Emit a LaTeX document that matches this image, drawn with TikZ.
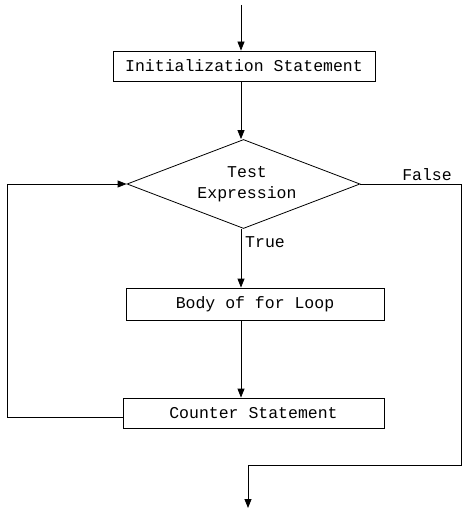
\documentclass[tikz,border=0pt]{standalone}
\usepackage{fontspec}
\setmainfont{Liberation Mono}
\usetikzlibrary{shapes.geometric,arrows.meta}
\begin{document}
\begin{tikzpicture}[x=1pt,y=-1pt,
  every node/.style={font=\fontsize{16.5}{21}\selectfont},
  box/.style={draw,line width=0.8pt,rectangle,inner sep=0pt},
  dia/.style={draw,line width=0.8pt,diamond,inner sep=0pt,minimum width=233pt,minimum height=89pt},
  conn/.style={line width=0.8pt},
  arr/.style={conn,-{Triangle[length=9pt,width=7pt]}},
  lbl/.style={inner sep=0pt}]
\useasboundingbox[fill=white] (0,0) rectangle (468,513);
\node[box,minimum width=262pt,minimum height=30pt] (init) at (244,66) {Initialization Statement};
\node[dia] (dec) at (243.5,184) {};
\node[lbl,align=center] (dectext) at (247,184) {Test\\Expression};
\node[box,minimum width=258pt,minimum height=32pt] (body) at (255,304) {Body of for Loop};
\node[box,minimum width=261pt,minimum height=30pt] (counter) at (253.5,413) {Counter Statement};
\coordinate (start) at (241,5);
\coordinate (loopL) at (7,417);
\coordinate (fr) at (461,465);
\coordinate (endpt) at (248,508);
\node[lbl] (false) at (427,175) {False};
\node[lbl,anchor=west] (true) at (245,242) {True};
\draw[arr] (start) -- (start |- init.north);
\draw[arr] (init.south -| start) -- (start |- dec.north);
\draw[arr] (start |- dec.south) -- (start |- body.north);
\draw[arr] (body.south -| start) -- (start |- counter.north);
\draw[arr] (counter.west |- loopL) -- (loopL) |- (dec.west);
\draw[arr] (dec.east) -| (fr) -- (fr -| endpt) -- (endpt);
\end{tikzpicture}
\end{document}
